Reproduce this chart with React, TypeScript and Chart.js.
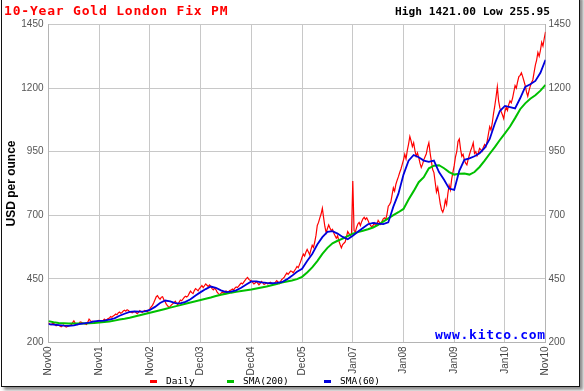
import React, { useEffect, useRef } from "react";
import { Chart, registerables } from "chart.js";

Chart.register(...registerables);

const X_TICKS = [0, 1, 2, 3, 4, 5, 6, 7, 8, 9, 9.8];
const X_LABELS = ["Nov00", "Nov01", "Nov02", "Dec03", "Dec04", "Dec05", "Jan07", "Jan08", "Jan09", "Jan10", "Nov10"];
const Y_TICKS = [200, 450, 700, 950, 1200, 1450];

const DAILY_STEP = 0.025;
const SMA_STEP = 0.1;

const DAILY = [
  277, 272, 270, 274, 276, 270, 266, 269, 268, 265, 262, 266, 269, 264, 261, 263, 265, 268, 270, 278,
  285, 276, 271, 270, 274, 281, 279, 276, 275, 273, 271, 280, 292, 286, 282, 284, 280, 279, 283, 286,
  287, 284, 280, 286, 292, 287, 290, 294, 296, 302, 299, 304, 307, 312, 309, 316, 320, 315, 318, 324,
  327, 323, 329, 326, 321, 319, 317, 320, 322, 318, 313, 318, 325, 321, 318, 323, 326, 324, 320, 326,
  332, 340, 346, 356, 368, 380, 384, 375, 370, 378, 380, 368, 360, 350, 344, 338, 342, 348, 352, 357,
  362, 354, 348, 358, 367, 364, 370, 377, 382, 379, 383, 393, 402, 396, 392, 404, 412, 408, 403, 412,
  418, 424, 416, 423, 430, 425, 420, 426, 421, 412, 407, 414, 408, 398, 392, 388, 393, 398, 394, 399,
  403, 396, 400, 404, 406, 410, 407, 414, 418, 416, 422, 428, 434, 430, 437, 444, 451, 456, 448, 445,
  442, 436, 430, 434, 439, 433, 427, 432, 440, 435, 428, 431, 435, 430, 434, 437, 433, 428, 432, 437,
  443, 438, 432, 440, 448, 452, 457, 466, 473, 468, 475, 481, 479, 474, 482, 490, 499, 494, 507, 520,
  535, 548, 540, 555, 566, 556, 545, 565, 582, 574, 595, 622, 660, 672, 690, 705, 728, 690, 655, 632,
  648, 662, 650, 640, 645, 630, 620, 610, 620, 600, 585, 572, 585, 590, 595, 615, 636, 628, 620, 628,
  835, 640, 634, 652, 666, 672, 660, 675, 686, 692, 684, 690, 680, 668, 660, 654, 660, 670, 660, 664,
  680, 672, 665, 676, 686, 690, 684, 705, 736, 742, 752, 780, 808, 795, 822, 838, 852, 868, 882, 900,
  918, 940, 922, 955, 980, 1010, 992, 970, 985, 955, 932, 945, 928, 905, 888, 900, 918, 930, 942, 968,
  985, 945, 912, 880, 868, 830, 792, 810, 778, 745, 722, 712, 728, 760, 742, 785, 818, 800, 842, 870,
  895, 930, 950, 990, 1000, 960, 932, 940, 918, 905, 898, 920, 938, 955, 968, 985, 943, 950, 934, 945,
  963, 958, 952, 968, 978, 970, 992, 1020, 1048, 1035, 1062, 1100, 1130, 1165, 1205, 1150, 1122, 1108, 1095, 1080,
  1108, 1125, 1112, 1135, 1150, 1142, 1160, 1185, 1210, 1200, 1225, 1245, 1250, 1260, 1245, 1228, 1210, 1185, 1168, 1190,
  1208, 1222, 1232, 1262, 1290, 1310, 1340, 1325, 1348, 1380, 1365, 1395, 1421,
];

const SMA60 = [
  272, 270, 268, 266, 265, 267, 272, 275, 278, 283,
  285, 286, 290, 295, 305, 313, 320, 322, 321, 322,
  328, 340, 355, 365, 362, 355, 354, 360, 370, 385,
  398, 410, 420, 415, 405, 398, 400, 405, 415, 428,
  440, 440, 436, 434, 433, 434, 437, 448, 462, 478,
  490, 520, 548, 585, 614, 635, 638, 628, 615, 606,
  620, 635, 650, 665, 670, 667, 665, 672, 734, 785,
  860, 915, 937, 928, 915, 910, 915, 870, 840, 805,
  800, 875, 918, 924, 932, 944, 965, 1000, 1060, 1110,
  1130, 1125, 1120, 1160, 1205, 1215, 1228, 1260, 1311,
];

const SMA200 = [
  284, 280, 277, 276, 275, 275, 275, 275, 276, 277,
  279, 281, 283, 286, 290, 293, 297, 302, 307, 312,
  317, 322, 327, 332, 337, 342, 347, 352, 357, 362,
  367, 372, 377, 383, 388, 392, 396, 399, 402, 405,
  408, 412, 416, 420, 425, 430, 436, 440, 444, 449,
  458, 475, 495, 520, 548, 572, 590, 600, 608, 618,
  628, 634, 639, 645, 652, 662, 675, 688, 701, 712,
  725, 762, 795, 830, 850, 885, 895, 897, 885, 870,
  860, 863, 864, 860, 870, 890, 915, 942, 968, 996,
  1022, 1049, 1082, 1117, 1140, 1158, 1172, 1190, 1213,
];

const TITLE = "10-Year Gold London Fix PM";
const HIGH_LOW = "High 1421.00 Low 255.95";
const SOURCE = "www.kitco.com";
const LEGEND = [
  { label: "Daily", color: "#ff0000" },
  { label: "SMA(200)", color: "#00c000" },
  { label: "SMA(60)", color: "#0000dd" },
];

const MONO = "'DejaVu Sans Mono', 'Liberation Mono', monospace";
const SANS = "'Liberation Sans', Arial, sans-serif";

function toPoints(values: number[], step: number) {
  return values.map((y, i) => ({ x: Math.round(i * step * 1000) / 1000, y }));
}

export default function App() {
  const ref = useRef<HTMLCanvasElement | null>(null);

  useEffect(() => {
    if (!ref.current) return;
    const yTicks = (s: any) => {
      s.ticks = Y_TICKS.map((v) => ({ value: v }));
    };
    const tickFont = { family: SANS, size: 10 };
    const chart = new Chart(ref.current, {
      type: "line",
      data: {
        datasets: [
          {
            label: "SMA(60)",
            data: toPoints(SMA60, SMA_STEP),
            borderColor: "#0000dd",
            borderWidth: 1.8,
            pointRadius: 0,
            tension: 0,
          },
          {
            label: "SMA(200)",
            data: toPoints(SMA200, SMA_STEP),
            borderColor: "#00c000",
            borderWidth: 2,
            pointRadius: 0,
            tension: 0,
          },
          {
            label: "Daily",
            data: toPoints(DAILY, DAILY_STEP),
            borderColor: "#ff0000",
            borderWidth: 1.2,
            pointRadius: 0,
            tension: 0,
          },
        ],
      },
      options: {
        animation: false,
        responsive: false,
        devicePixelRatio: 1,
        layout: { padding: { top: 24.5, left: 0, right: 0, bottom: 0 } },
        plugins: { legend: { display: false }, tooltip: { enabled: false }, title: { display: false } },
        scales: {
          x: {
            type: "linear",
            min: 0,
            max: 9.8,
            afterBuildTicks: (s: any) => {
              s.ticks = X_TICKS.map((v) => ({ value: v }));
            },
            afterFit: (s: any) => {
              s.height = 48.5;
            },
            ticks: {
              autoSkip: false,
              minRotation: 90,
              maxRotation: 90,
              padding: 4,
              color: "#444",
              font: tickFont,
              callback: (_v: any, i: number) => X_LABELS[i] ?? "",
            },
            grid: { color: "#c8c8c8", lineWidth: 1, drawTicks: false },
            border: { color: "#b4b4b4" },
          },
          y: {
            position: "left",
            min: 200,
            max: 1450,
            afterBuildTicks: yTicks,
            afterFit: (s: any) => {
              s.width = 48.5;
            },
            ticks: { padding: 5, color: "#555", font: tickFont, callback: (v: any) => String(v) },
            grid: { color: "#c8c8c8", lineWidth: 1, drawTicks: false },
            border: { color: "#b4b4b4" },
            title: {
              display: true,
              text: "USD per ounce",
              color: "#000",
              font: { family: SANS, size: 12, weight: "bold" },
              padding: { top: 4.5, bottom: 0 },
            },
          },
          y2: {
            position: "right",
            min: 200,
            max: 1450,
            afterBuildTicks: yTicks,
            afterFit: (s: any) => {
              s.width = 38.5;
            },
            ticks: { padding: 3, color: "#555", font: tickFont, callback: (v: any) => String(v) },
            grid: { display: false, drawTicks: false },
            border: { color: "#b4b4b4" },
          },
        },
      },
    } as any);
    return () => chart.destroy();
  }, []);

  const legendPos = [150, 227, 324];

  return (
    <div style={{ position: "fixed", left: 0, top: 0, width: 584, height: 391, background: "#fff", overflow: "hidden" }}>
      <canvas ref={ref} width={584} height={391} style={{ position: "absolute", left: 0, top: 0, width: 584, height: 391 }} />
      <div
        style={{
          position: "absolute",
          left: 4,
          top: 3,
          fontFamily: MONO,
          fontWeight: "bold",
          fontSize: 13,
          letterSpacing: 0.8,
          lineHeight: "16px",
          color: "#ff0000",
          whiteSpace: "nowrap",
        }}
      >
        {TITLE}
      </div>
      <div
        style={{
          position: "absolute",
          right: 34,
          top: 5,
          fontFamily: MONO,
          fontWeight: "bold",
          fontSize: 11.2,
          lineHeight: "14px",
          color: "#000",
          whiteSpace: "nowrap",
        }}
      >
        {HIGH_LOW}
      </div>
      <div
        style={{
          position: "absolute",
          left: 435,
          top: 327,
          fontFamily: MONO,
          fontWeight: "bold",
          fontSize: 13,
          letterSpacing: 0.7,
          lineHeight: "16px",
          color: "#0000ff",
          whiteSpace: "nowrap",
        }}
      >
        {SOURCE}
      </div>
      {LEGEND.map((item, i) => (
        <div
          key={item.label}
          style={{ position: "absolute", left: legendPos[i], top: 374, height: 14, display: "flex", alignItems: "center", whiteSpace: "nowrap" }}
        >
          <span style={{ display: "inline-block", width: 7, height: 3, background: item.color, marginRight: 9 }} />
          <span style={{ fontFamily: MONO, fontSize: 9.5, color: "#000", lineHeight: "14px" }}>{item.label}</span>
        </div>
      ))}
      <div
        style={{
          position: "absolute",
          left: 1,
          top: -5,
          width: 579,
          height: 392,
          boxSizing: "border-box",
          border: "1px solid #111",
          boxShadow: "3px 3px 3px rgba(0,0,0,0.45)",
          pointerEvents: "none",
        }}
      />
    </div>
  );
}
